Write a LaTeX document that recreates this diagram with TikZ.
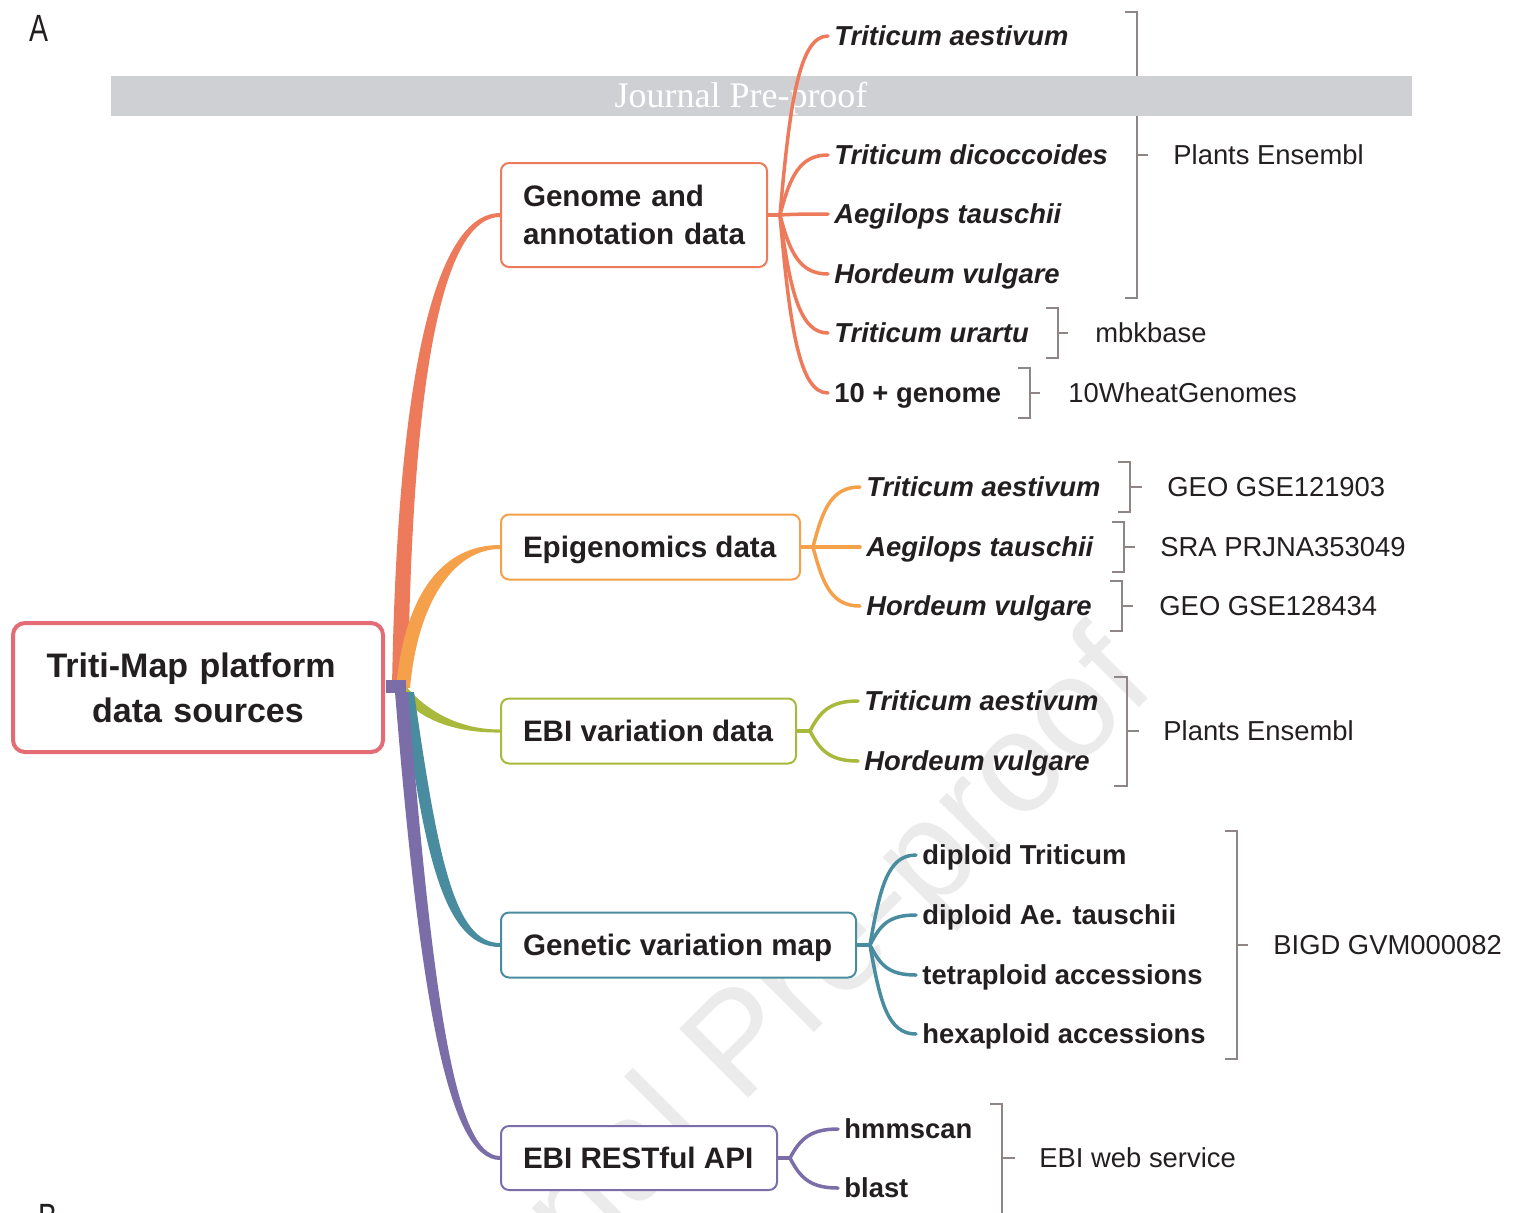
\documentclass[tikz,border=0pt]{standalone}
\usepackage{fontspec}
\setmainfont{Liberation Sans}
\newfontfamily\bannerfont{Liberation Serif}
\usetikzlibrary{calc}

\definecolor{rootred}{RGB}{228,108,116}
\definecolor{genred}{RGB}{238,122,92}
\definecolor{epiorange}{RGB}{245,160,74}
\definecolor{vargreen}{RGB}{168,185,60}
\definecolor{mapteal}{RGB}{74,140,159}
\definecolor{apipurple}{RGB}{122,109,168}
\definecolor{brgray}{RGB}{142,133,133}
\definecolor{ink}{RGB}{35,31,32}
\definecolor{bannergray}{RGB}{207,208,211}
\definecolor{wmgray}{RGB}{235,235,235}

\tikzset{
  catbox/.style={draw, rounded corners=4pt, line width=1pt, fill=white,
    inner xsep=11pt, inner ysep=0pt, anchor=west, text=ink,
    font=\fontsize{14.8}{19}\selectfont\bfseries,
    text height=10.6pt, text depth=0pt, minimum height=32.5pt},
  leaf/.style={anchor=west, inner xsep=3pt, inner ysep=0pt, text=ink,
    font=\fontsize{13.7}{16}\selectfont\bfseries\itshape,
    text height=9.8pt, text depth=0pt},
  leafup/.style={leaf, font=\fontsize{13.7}{16}\selectfont\bfseries},
  source/.style={anchor=west, inner sep=0pt, text=ink,
    font=\fontsize{13.7}{16}\selectfont, text height=9.8pt, text depth=0pt},
  twig/.style={line width=1.75pt, line cap=round},
  brk/.style={draw=brgray, line width=1pt},
}

% left-set box label of fixed width
\newcommand\boxtext[2]{\makebox[#1][l]{#2}}

% curved twig from a junction to the west side of a leaf
\newcommand\twigto[3]{%
  \draw[twig,#1] (#2) .. controls ($(#2)!0.65!(#2 |- #3.west)+(10,0)$)
    and ($(#3.west)+(-28,0)$) .. (#3.west);}

\begin{document}
\begin{tikzpicture}[x=0.5pt,y=-0.5pt]
\useasboundingbox (0,0) rectangle (1520,1212);
\clip (0,0) rectangle (1520,1212);

% watermark
\node[rotate=45, text=wmgray, font=\fontsize{71}{71}\selectfont] (wm) at (745,1050) {Journal Pre-proof};

% panel letters
\node[font=\fontsize{19}{19}\selectfont, xscale=0.75, text=ink] (pa) at (39,28) {A};
\node[font=\fontsize{19}{19}\selectfont, xscale=0.75, text=ink, anchor=base] (pb) at (48,1230) {B};

% source brackets
\draw[brk] (1125,12) -- (1137,12) -- (1137,298) -- (1125,298) (1137,155) -- (1148,155);
\draw[brk] (1046,308) -- (1058,308) -- (1058,358) -- (1046,358) (1058,333) -- (1068,333);
\draw[brk] (1018,368) -- (1030,368) -- (1030,418) -- (1018,418) (1030,393) -- (1040,393);
\draw[brk] (1118,462) -- (1130,462) -- (1130,512) -- (1118,512) (1130,487) -- (1142,487);
\draw[brk] (1112,522) -- (1124,522) -- (1124,572) -- (1112,572) (1124,547) -- (1135,547);
\draw[brk] (1110,581) -- (1122,581) -- (1122,631) -- (1110,631) (1122,606) -- (1133,606);
\draw[brk] (1114,677) -- (1127,677) -- (1127,786) -- (1114,786) (1127,731) -- (1139,731);
\draw[brk] (1225,831) -- (1237,831) -- (1237,1059) -- (1225,1059) (1237,945) -- (1248,945);
\draw[brk] (990,1104) -- (1002,1104) -- (1002,1216) (1002,1158) -- (1015,1158);

\node[source] (s1) at (1173,155) {Plants Ensembl};
\node[source] (s2) at (1095,333) {mbkbase};
\node[source] (s3) at (1068,393) {10WheatGenomes};
\node[source] (s4) at (1167,487) {GEO GSE121903};
\node[source] (s5) at (1160,547) {SRA PRJNA353049};
\node[source] (s6) at (1159,606) {GEO GSE128434};
\node[source] (s7) at (1163,731) {Plants Ensembl};
\node[source] (s8) at (1273,945) {BIGD GVM000082};
\node[source] (s9) at (1039,1158) {EBI web service};

% banner
\fill[bannergray] (111,76) rectangle (1412,116);
\node[text=white, anchor=base, inner sep=0pt, font=\bannerfont\fontsize{18}{18}\selectfont] (banner) at (741,107) {Journal Pre-proof};

% category boxes
\node[catbox, draw=genred, align=left, text width=111pt, minimum height=52pt, text height=10.6pt, text depth=19pt] (gbox) at (500,215) {Genome and\\annotation data};
\node[catbox, draw=epiorange] (ebox) at (500,547) {\boxtext{127.5pt}{Epigenomics data}};
\node[catbox, draw=vargreen] (vbox) at (500,731) {\boxtext{125.5pt}{EBI variation data}};
\node[catbox, draw=mapteal] (mbox) at (500,945) {\boxtext{155.5pt}{Genetic variation map}};
\node[catbox, draw=apipurple, minimum height=32pt] (abox) at (500,1158) {\boxtext{116pt}{EBI RESTful API}};

% root
\node[draw=rootred, line width=2pt, rounded corners=6pt, fill=white, inner sep=0pt,
  minimum width=185pt, minimum height=64.5pt, text width=175pt, align=center, text=ink,
  font=\fontsize{17}{22.5}\selectfont\bfseries, text height=12.2pt, text depth=22.5pt]
  (root) at (198,687.5) {Triti-Map platform\kern7pt\\data sources};
\coordinate (hub) at (396,688);

% tapered main branches
\fill[genred] ($(hub)+(-4,0)$) .. controls (398,320) and (448,213) .. ($(gbox.west)+(0,-2)$)
  -- ($(gbox.west)+(0,2)$) .. controls (452,217) and (412,330) .. ($(hub)+(12,0)$) -- cycle;
\fill[epiorange] ($(hub)+(0,0)$) .. controls (405,590) and (445,545) .. ($(ebox.west)+(0,-2)$)
  -- ($(ebox.west)+(0,2)$) .. controls (455,549) and (418,600) .. ($(hub)+(14,0)$) -- cycle;
\fill[vargreen] ($(hub)+(7,-5)$) .. controls (430,716) and (465,729.5) .. ($(vbox.west)+(0,-1.5)$)
  -- ($(vbox.west)+(0,1.5)$) .. controls (460,733) and (422,722) .. ($(hub)+(7,9)$) -- cycle;
\fill[mapteal] ($(hub)+(18,4)$) .. controls (438,860) and (455,943) .. ($(mbox.west)+(0,-2)$)
  -- ($(mbox.west)+(0,2)$) .. controls (448,947) and (425,870) .. ($(hub)+(7,4)$) -- cycle;
\fill[apipurple] ($(hub)+(12,4)$) .. controls (433,1000) and (455,1156) .. ($(abox.west)+(0,-2)$)
  -- ($(abox.west)+(0,2)$) .. controls (448,1160) and (420,1000) .. ($(hub)+(-1,4)$) -- cycle;
\fill[apipurple] (386,680) rectangle (406,693);

% leaves
\node[leaf] (g1a) at (828,36) {Triticum aestivum};
\node[leaf] (g1b) at (828,155) {Triticum dicoccoides};
\node[leaf] (g1c) at (828,214) {Aegilops tauschii};
\node[leaf] (g1d) at (828,274) {Hordeum vulgare};
\node[leaf] (g1e) at (828,333) {Triticum urartu};
\node[leafup] (g1f) at (828,393) {10 + genome};

\node[leaf] (g2a) at (860,487) {Triticum aestivum};
\node[leaf] (g2b) at (860,547) {Aegilops tauschii};
\node[leaf] (g2c) at (860,606) {Hordeum vulgare};

\node[leaf] (g3a) at (858,701) {Triticum aestivum};
\node[leaf] (g3b) at (858,761) {Hordeum vulgare};

\node[leafup] (g4a) at (916,855) {diploid Triticum};
\node[leafup] (g4b) at (916,915) {diploid Ae. tauschii};
\node[leafup] (g4c) at (916,975) {tetraploid accessions};
\node[leafup] (g4d) at (916,1034) {hexaploid accessions};

\node[leafup] (g5a) at (838,1129) {hmmscan};
\node[leafup] (g5b) at (838,1188) {blast};

% junctions and twigs
\coordinate (j1) at (780,215);
\coordinate (j2) at (813,547);
\coordinate (j3) at (810,731);
\coordinate (j4) at (870,945);
\coordinate (j5) at (790,1158);

\draw[twig,genred] (gbox.east) -- (j1);
\foreach \l in {g1a,g1b,g1c,g1d,g1e,g1f} {\twigto{genred}{j1}{\l}}
\draw[twig,epiorange] (ebox.east) -- (j2);
\foreach \l in {g2a,g2b,g2c} {\twigto{epiorange}{j2}{\l}}
\draw[twig,vargreen] (vbox.east) -- (j3);
\foreach \l in {g3a,g3b} {\twigto{vargreen}{j3}{\l}}
\draw[twig,mapteal] (mbox.east) -- (j4);
\foreach \l in {g4a,g4b,g4c,g4d} {\twigto{mapteal}{j4}{\l}}
\draw[twig,apipurple] (abox.east) -- (j5);
\foreach \l in {g5a,g5b} {\twigto{apipurple}{j5}{\l}}
\end{tikzpicture}
\end{document}
